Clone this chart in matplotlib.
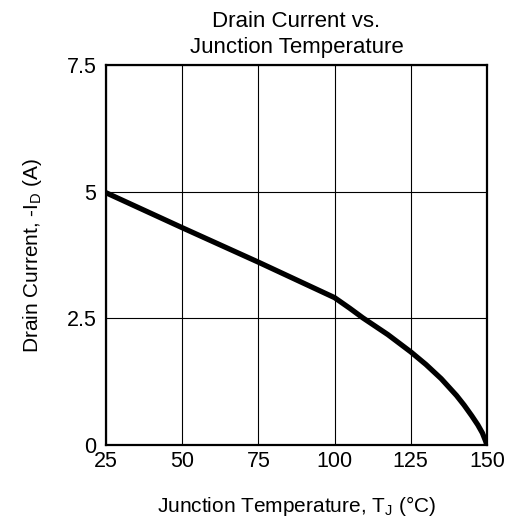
import matplotlib

matplotlib.use("Agg")
import matplotlib.pyplot as plt

# Drain current derating curve
temp_c = [25, 50, 75, 100, 105, 109.3, 117.5, 125, 130, 135, 140, 142.5, 145, 147, 148.5, 149.5, 150]
drain_a = [4.98, 4.29, 3.61, 2.91, 2.70, 2.51, 2.18, 1.84, 1.59, 1.31, 0.98, 0.79, 0.58, 0.40, 0.24, 0.09, 0.0]

x_ticks = [25, 50, 75, 100, 125, 150]
y_ticks = [0, 2.5, 5, 7.5]
y_tick_labels = ["0", "2.5", "5", "7.5"]

plt.rcParams.update({
    "font.family": ["Liberation Sans", "DejaVu Sans"],
    "mathtext.fontset": "custom",
    "mathtext.rm": "Liberation Sans",
})

fig = plt.figure(figsize=(5.13, 5.2), dpi=100)
ax = fig.add_axes([0.2066, 0.144, 0.7426, 0.731])

ax.plot(temp_c, drain_a, color="black", lw=3.8, solid_capstyle="butt",
        solid_joinstyle="round", zorder=3)

ax.set_xlim(25, 150)
ax.set_ylim(0, 7.5)
ax.set_xticks(x_ticks)
ax.set_yticks(y_ticks)
ax.set_yticklabels(y_tick_labels)
ax.tick_params(length=0, labelsize=15.5)
ax.tick_params(axis="x", pad=4)
ax.tick_params(axis="y", pad=7)
ax.grid(color="black", lw=0.8)
for s in ax.spines.values():
    s.set_linewidth(1.6)

ax.set_title("Drain Current vs.\nJunction Temperature", fontsize=16, pad=9, linespacing=1.3)
ax.set_xlabel(r"Junction Temperature, T$_\mathregular{J}$ (°C)", fontsize=15, labelpad=16)
ax.set_ylabel(r"Drain Current, -I$_\mathregular{D}$ (A)", fontsize=15, labelpad=16)

fig.savefig("out.png", dpi=100)
